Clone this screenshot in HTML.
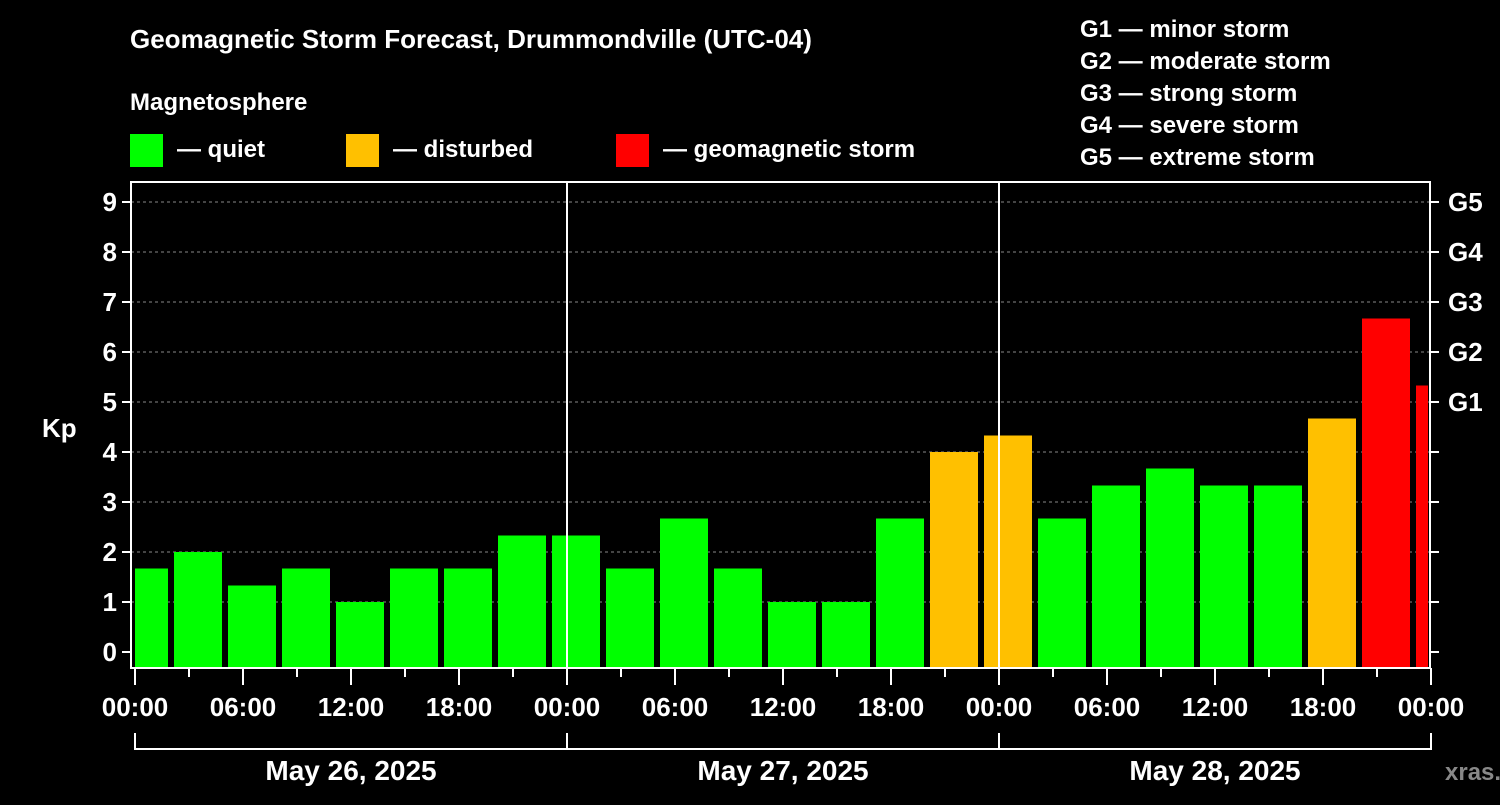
<!DOCTYPE html>
<html><head><meta charset="utf-8"><style>
body{margin:0;background:#000;}
svg text{font-family:"Liberation Sans",sans-serif;font-weight:bold;fill:#fff;}
</style></head><body>
<svg id="c" width="1500" height="800" xmlns="http://www.w3.org/2000/svg">
<rect width="1500" height="800" fill="#000"/>
<text x="130" y="48" font-size="26">Geomagnetic Storm Forecast, Drummondville (UTC-04)</text>
<text x="130" y="110" font-size="24">Magnetosphere</text>
<g><rect x="130" y="134" width="33" height="33" fill="#00ff00"/><text x="177" y="157" font-size="24">— quiet</text></g>
<g><rect x="346" y="134" width="33" height="33" fill="#ffc000"/><text x="393" y="157" font-size="24">— disturbed</text></g>
<g><rect x="616" y="134" width="33" height="33" fill="#ff0000"/><text x="663" y="157" font-size="24">— geomagnetic storm</text></g>
<g font-size="24">
<text x="1080" y="37">G1 — minor storm</text>
<text x="1080" y="69">G2 — moderate storm</text>
<text x="1080" y="101">G3 — strong storm</text>
<text x="1080" y="133">G4 — severe storm</text>
<text x="1080" y="165">G5 — extreme storm</text>
</g>
<text x="42" y="437" font-size="26">Kp</text>
<text x="1445" y="780" font-size="24" style="fill:#888">xras.ru</text>
<g id="plot"></g>
</svg>
<script>
const kpValues=[1.67,2.0,1.33,1.67,1.0,1.67,1.67,2.33,2.33,1.67,2.67,1.67,1.0,1.0,2.67,4.0,4.33,2.67,3.33,3.67,3.33,3.33,4.67,6.67,5.33];
const yTicks=["0","1","2","3","4","5","6","7","8","9"];
const gLabels=["G1","G2","G3","G4","G5"];
const xTickLabels=["00:00","06:00","12:00","18:00","00:00","06:00","12:00","18:00","00:00","06:00","12:00","18:00","00:00"];
const dayLabels=["May 26, 2025","May 27, 2025","May 28, 2025"];
const NS="http://www.w3.org/2000/svg";
const g=document.getElementById('plot');
const L=131,R=1430,T=182,B=668,X0=135,PXH=18;
const y=v=>652-50*v;
const x=h=>X0+h*PXH;
function mk(t,a){const e=document.createElementNS(NS,t);for(const k in a)e.setAttribute(k,a[k]);g.appendChild(e);return e;}
// grid
yTicks.forEach((t,i)=>{
 if(i>0){const l=mk('line',{x1:L,x2:R,y1:y(i),y2:y(i),stroke:'#888','stroke-dasharray':'3,3','stroke-width':1});
 
 }
 const tk=mk('line',{x1:L-9,x2:L,y1:y(i),y2:y(i),stroke:'#fff','stroke-width':2});
 
 
 const rt=mk('line',{x1:R,x2:R+9,y1:y(i),y2:y(i),stroke:'#fff','stroke-width':2});
 
 
 const tx=mk('text',{x:L-14,y:y(i)+9,'font-size':26,'text-anchor':'end'});tx.textContent=t;
 
 
});
gLabels.forEach((t,i)=>{
 const tx=mk('text',{x:R+18,y:y(5+i)+9,'font-size':26});tx.textContent=t;
 
 
});
// clip
const defs=mk('defs',{});const cp=document.createElementNS(NS,'clipPath');cp.setAttribute('id','pc');
const cr=document.createElementNS(NS,'rect');cr.setAttribute('x',L+4);cr.setAttribute('y',T);cr.setAttribute('width',R-L-6);cr.setAttribute('height',B-T);cp.appendChild(cr);defs.appendChild(cp);
const bars=mk('g',{'clip-path':'url(#pc)'});
kpValues.forEach((v,i)=>{
 const c=v>=5?'#ff0000':(v>=4?'#ffc000':'#00ff00');
 const r=document.createElementNS(NS,'rect');
 const cx=x(i*3);
 r.setAttribute('x',cx-15);r.setAttribute('width',48);
 r.setAttribute('y',y(v));r.setAttribute('height',B-y(v));r.setAttribute('fill',c);
 
 
 bars.appendChild(r);
});
// day separators
[1,2].forEach(d=>{const l=mk('line',{x1:x(d*24),x2:x(d*24),y1:T,y2:B,stroke:'#fff','stroke-width':2});
 
 });
const fr=mk('rect',{x:L,y:T,width:R-L,height:B-T,fill:'none',stroke:'#fff','stroke-width':2});


// x ticks
for(let h=0;h<=72;h+=3){
 const major=h%6===0;
 const l=mk('line',{x1:x(h),x2:x(h),y1:B,y2:B+(major?17:9),stroke:'#fff','stroke-width':2});
 
 
}
xTickLabels.forEach((t,i)=>{
 const tx=mk('text',{x:x(i*6),y:716,'font-size':26,'text-anchor':'middle'});tx.textContent=t;
 
 
});
const br=mk('path',{d:`M${x(0)},733V749H${x(72)}V733`,fill:'none',stroke:'#fff','stroke-width':2});


[1,2].forEach(d=>{const l=mk('line',{x1:x(d*24),x2:x(d*24),y1:733,y2:749,stroke:'#fff','stroke-width':2});
 
 });
dayLabels.forEach((t,i)=>{
 const tx=mk('text',{x:x(i*24+12),y:780,'font-size':28,'text-anchor':'middle'});tx.textContent=t;
 
 
});
</script>
</body></html>
